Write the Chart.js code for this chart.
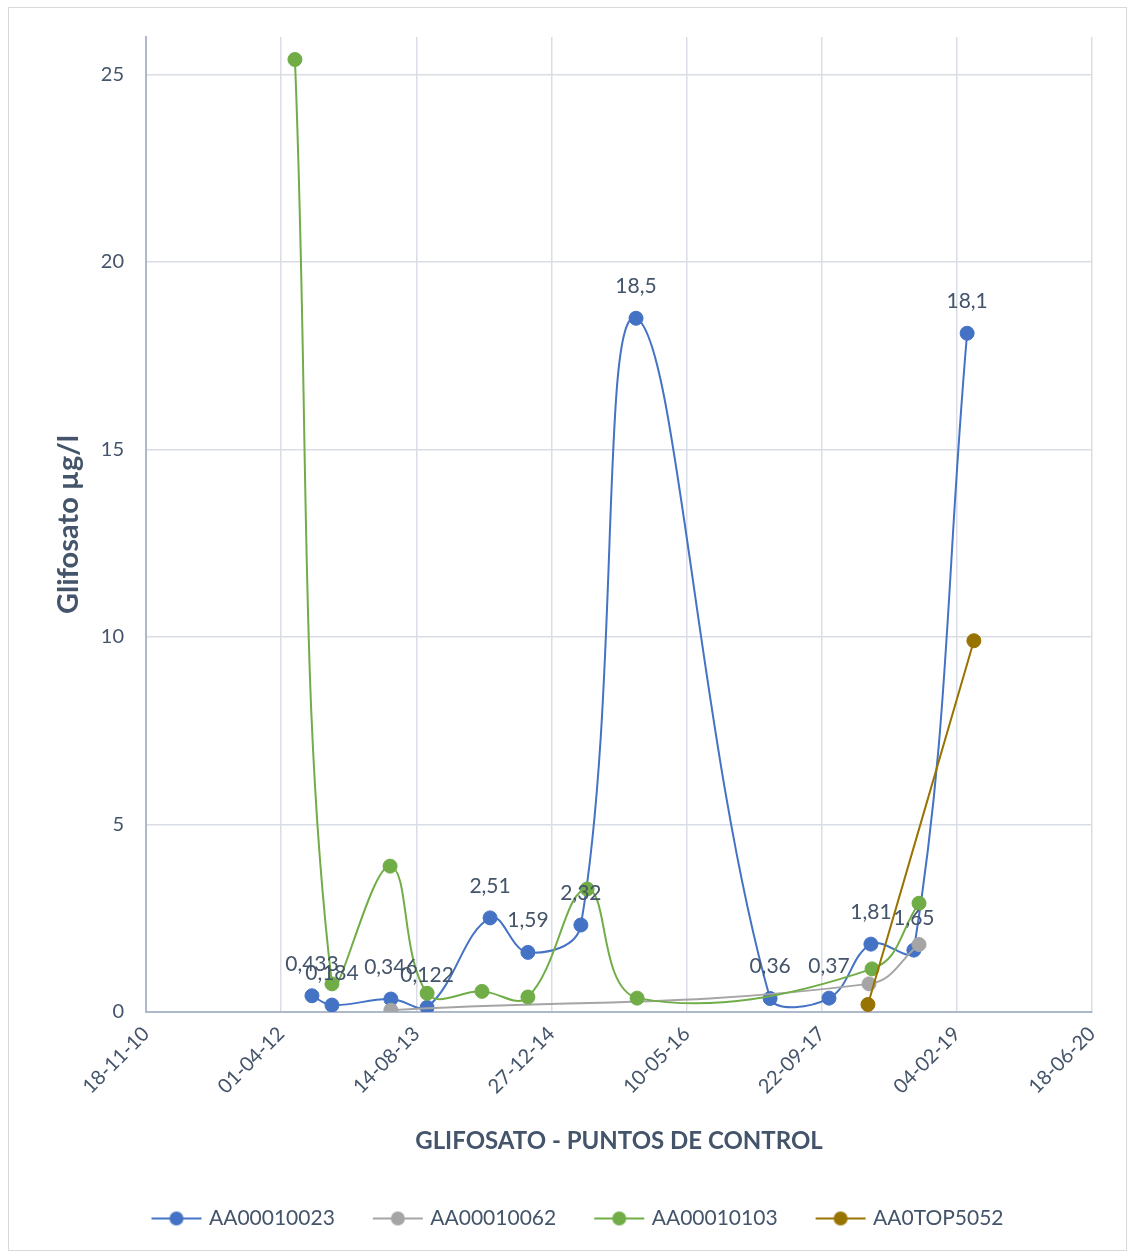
<!DOCTYPE html>
<html lang="es">
<head>
    <meta charset="UTF-8">
    <title>Glifosato - puntos de control</title>
    <!-- Chart.js -->
    <script src="https://cdn.jsdelivr.net/npm/chart.js@4"></script>
    <style>
        body { margin: 0; background: #fff; }
    </style>
</head>
<body>
    <canvas id="glifosatoChart" width="1135" height="1252"></canvas>

    <script>
        // Fechas como número de serie de Excel (días desde 30-12-1899)
        var fechas23 = [41114, 41188, 41406, 41540, 41773, 41913, 42109, 42313, 42809, 43027, 43182, 43341, 43538];
        var valores23 = [0.433, 0.184, 0.346, 0.122, 2.51, 1.59, 2.32, 18.5, 0.36, 0.37, 1.81, 1.65, 18.1];

        var fechas62 = [41406, 43175, 43360];
        var valores62 = [0.05, 0.75, 1.8];

        var fechas103 = [41051, 41188, 41403, 41540, 41743, 41913, 42132, 42317, 43186, 43360];
        var valores103 = [25.4, 0.75, 3.89, 0.5, 0.55, 0.4, 3.28, 0.37, 1.15, 2.9];

        var fechasTop = [43171, 43563];
        var valoresTop = [0.2, 9.9];

        var series = ['AA00010023', 'AA00010062', 'AA00010103', 'AA0TOP5052'];
        var colores = ['#4472C4', '#A5A5A5', '#70AD47', '#997300'];

        var ticksX = [40500, 41000, 41500, 42000, 42500, 43000, 43500, 44000];
        var ticksY = [0, 5, 10, 15, 20, 25];

        var colorTexto = '#44546A';
        var fuente = 'Lato, "Open Sans", sans-serif';

        function puntos(fechas, valores) {
            return fechas.map(function (f, i) { return { x: f, y: valores[i] }; });
        }

        // serie de Excel -> dd-mm-yy
        function fechaCorta(serie) {
            var d = new Date(Date.UTC(1899, 11, 30) + serie * 86400000);
            var dd = ('0' + d.getUTCDate()).slice(-2);
            var mm = ('0' + (d.getUTCMonth() + 1)).slice(-2);
            var yy = ('' + d.getUTCFullYear()).slice(-2);
            return dd + '-' + mm + '-' + yy;
        }

        // icono de leyenda: línea con marcador
        function iconoLeyenda(color) {
            var c = document.createElement('canvas');
            c.width = 52; c.height = 16;
            var g = c.getContext('2d');
            g.strokeStyle = color;
            g.lineWidth = 2;
            g.beginPath(); g.moveTo(1, 8); g.lineTo(51, 8); g.stroke();
            g.fillStyle = color;
            g.beginPath(); g.arc(26, 8, 7, 0, Math.PI * 2); g.fill();
            return c;
        }

        function serie(i, datos) {
            return {
                label: series[i],
                data: datos,
                showLine: true,
                borderColor: colores[i],
                backgroundColor: colores[i],
                borderWidth: 2,
                pointRadius: 7,
                pointHoverRadius: 7,
                pointBorderWidth: 1,
                tension: 0.4,
                order: 4 - i
            };
        }

        // Fondo y borde del gráfico
        var marcoPlugin = {
            id: 'marco',
            beforeDraw: function (chart) {
                var ctx = chart.ctx;
                ctx.save();
                ctx.fillStyle = '#fff';
                ctx.fillRect(0, 0, chart.width, chart.height);
                ctx.strokeStyle = '#D9D9D9';
                ctx.lineWidth = 1;
                ctx.strokeRect(8.5, 7.5, chart.width - 17, chart.height - 9);
                ctx.restore();
            }
        };

        // Etiquetas de datos sólo para AA00010023
        var etiquetasPlugin = {
            id: 'etiquetas',
            afterDatasetsDraw: function (chart) {
                var ctx = chart.ctx;
                var meta = chart.getDatasetMeta(0);
                ctx.save();
                ctx.font = '21px ' + fuente;
                ctx.fillStyle = colorTexto;
                ctx.textAlign = 'center';
                ctx.textBaseline = 'middle';
                meta.data.forEach(function (pt, i) {
                    ctx.fillText(String(valores23[i]).replace('.', ','), pt.x, pt.y - 32);
                });
                ctx.restore();
            }
        };

        var ctx = document.getElementById('glifosatoChart').getContext('2d');
        var grafico = new Chart(ctx, {
            type: 'scatter',
            data: {
                datasets: [
                    serie(0, puntos(fechas23, valores23)),
                    serie(1, puntos(fechas62, valores62)),
                    serie(2, puntos(fechas103, valores103)),
                    serie(3, puntos(fechasTop, valoresTop))
                ]
            },
            options: {
                responsive: false,
                animation: false,
                layout: { padding: { top: 37, right: 43, left: 66, bottom: 13 } },
                plugins: {
                    tooltip: { enabled: false },
                    legend: {
                        position: 'bottom',
                        labels: {
                            usePointStyle: true,
                            pointStyleWidth: 44,
                            padding: 41,
                            color: colorTexto,
                            font: { family: fuente, size: 21 },
                            sort: function (a, b) { return a.datasetIndex - b.datasetIndex; },
                            generateLabels: function (chart) {
                                var items = Chart.defaults.plugins.legend.labels.generateLabels(chart);
                                items.forEach(function (it) {
                                    it.pointStyle = iconoLeyenda(colores[it.datasetIndex]);
                                });
                                return items;
                            }
                        }
                    }
                },
                scales: {
                    x: {
                        type: 'linear',
                        min: 40500,
                        max: 44000,
                        afterBuildTicks: function (scale) {
                            scale.ticks = ticksX.map(function (v) { return { value: v }; });
                        },
                        afterFit: function (scale) { scale.height = 155; },
                        grid: { color: '#D9DEE6', lineWidth: 1.5, drawTicks: false },
                        border: { color: '#ADB9CA', width: 2 },
                        ticks: {
                            autoSkip: false,
                            maxRotation: 45,
                            minRotation: 45,
                            padding: 10,
                            color: colorTexto,
                            font: { family: fuente, size: 20 },
                            callback: function (v) { return fechaCorta(v); }
                        },
                        title: {
                            display: true,
                            text: 'GLIFOSATO - PUNTOS DE CONTROL',
                            color: colorTexto,
                            font: { family: fuente, size: 24, weight: 'bold' },
                            padding: { top: 0, bottom: 11 }
                        }
                    },
                    y: {
                        min: 0,
                        max: 26,
                        afterBuildTicks: function (scale) {
                            scale.ticks = ticksY.map(function (v) { return { value: v }; });
                        },
                        afterFit: function (scale) { scale.width = 80; },
                        grid: { color: '#D9DEE6', lineWidth: 1.5, drawTicks: false },
                        border: { color: '#ADB9CA', width: 2 },
                        ticks: {
                            padding: 22,
                            color: colorTexto,
                            font: { family: fuente, size: 20 }
                        },
                        title: {
                            display: true,
                            text: 'Glifosato µg/l',
                            color: colorTexto,
                            font: { family: fuente, size: 29, weight: 'bold' },
                            padding: { top: -15, bottom: 0 }
                        }
                    }
                }
            },
            plugins: [marcoPlugin, etiquetasPlugin]
        });
    </script>
</body>
</html>
